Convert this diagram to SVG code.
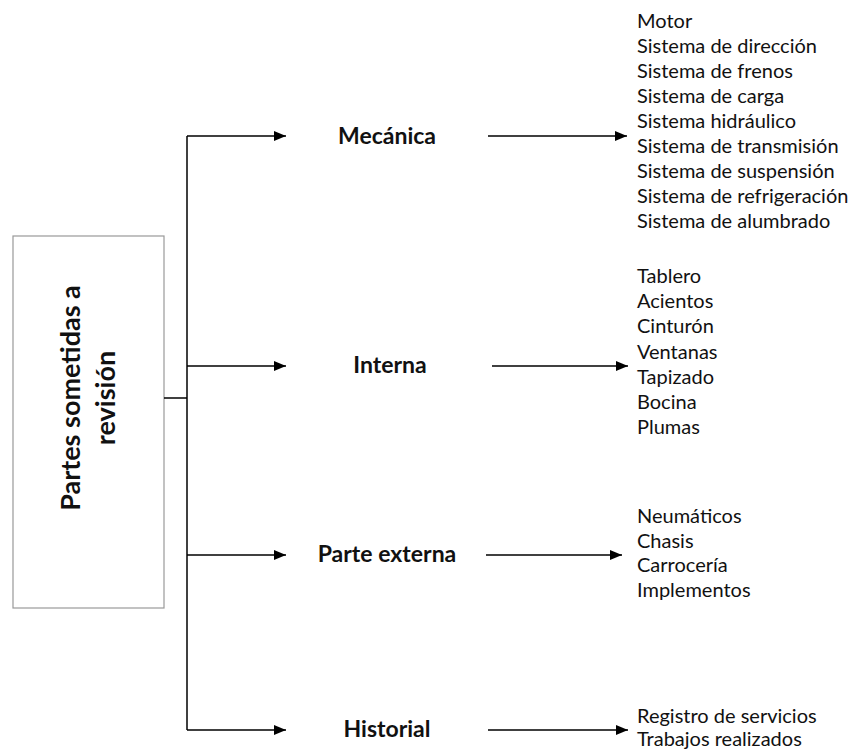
<svg xmlns="http://www.w3.org/2000/svg" width="851" height="751" viewBox="0 0 851 751">
<style>
.ln{stroke:#000;stroke-width:1.5;fill:none}
.lbl{font-family:Lato,"Open Sans","Liberation Sans",sans-serif;font-weight:bold;font-size:23px;fill:#111;text-anchor:middle}
.item{font-family:Lato,"Open Sans","Liberation Sans",sans-serif;font-size:20px;fill:#111}
.root{font-family:Lato,"Open Sans","Liberation Sans",sans-serif;font-weight:bold;font-size:27px;fill:#111;text-anchor:middle}
</style>
<defs>
<marker id="ah" viewBox="0 0 12 10" refX="12" refY="5" markerWidth="12" markerHeight="10" markerUnits="userSpaceOnUse" orient="auto">
<path d="M0,0 L12,5 L0,10 Z" fill="#000"/>
</marker>
</defs>
<rect width="851" height="751" fill="#fff"/>
<g id="root">
<rect x="13" y="236" width="151" height="372" fill="#fff" stroke="#999" stroke-width="1.2"/>
<text class="root" transform="translate(80,398) rotate(-90)">Partes sometidas a</text>
<text class="root" transform="translate(115,398) rotate(-90)">revisión</text>
</g>
<g id="connectors">
<path class="ln" d="M164,398 H187"/>
<path class="ln" d="M187,136 V730"/>
<path class="ln" d="M187,136 H286" marker-end="url(#ah)"/>
<path class="ln" d="M187,366 H286" marker-end="url(#ah)"/>
<path class="ln" d="M187,555 H286" marker-end="url(#ah)"/>
<path class="ln" d="M187,730 H286" marker-end="url(#ah)"/>
<path class="ln" d="M488,136 H627" marker-end="url(#ah)"/>
<path class="ln" d="M492,366 H628" marker-end="url(#ah)"/>
<path class="ln" d="M486,555 H622" marker-end="url(#ah)"/>
<path class="ln" d="M488,730 H628" marker-end="url(#ah)"/>
</g>
<g id="mecanica">
<text class="lbl" x="387" y="144">Mecánica</text>
</g>
<g id="interna">
<text class="lbl" x="390" y="373">Interna</text>
</g>
<g id="externa">
<text class="lbl" x="387" y="562">Parte externa</text>
</g>
<g id="historial">
<text class="lbl" x="387" y="737">Historial</text>
</g>
<g id="lista-mecanica" class="item">
<text x="637" y="28">Motor</text>
<text x="637" y="53">Sistema de dirección</text>
<text x="637" y="78">Sistema de frenos</text>
<text x="637" y="103">Sistema de carga</text>
<text x="637" y="128">Sistema hidráulico</text>
<text x="637" y="153">Sistema de transmisión</text>
<text x="637" y="178">Sistema de suspensión</text>
<text x="637" y="203">Sistema de refrigeración</text>
<text x="637" y="228">Sistema de alumbrado</text>
</g>
<g id="lista-interna" class="item">
<text x="637" y="283">Tablero</text>
<text x="637" y="308">Acientos</text>
<text x="637" y="333">Cinturón</text>
<text x="637" y="359">Ventanas</text>
<text x="637" y="384">Tapizado</text>
<text x="637" y="409">Bocina</text>
<text x="637" y="434">Plumas</text>
</g>
<g id="lista-externa" class="item">
<text x="637" y="523">Neumáticos</text>
<text x="637" y="548">Chasis</text>
<text x="637" y="572">Carrocería</text>
<text x="637" y="597">Implementos</text>
</g>
<g id="lista-historial" class="item">
<text x="637" y="723">Registro de servicios</text>
<text x="637" y="746">Trabajos realizados</text>
</g>
</svg>
